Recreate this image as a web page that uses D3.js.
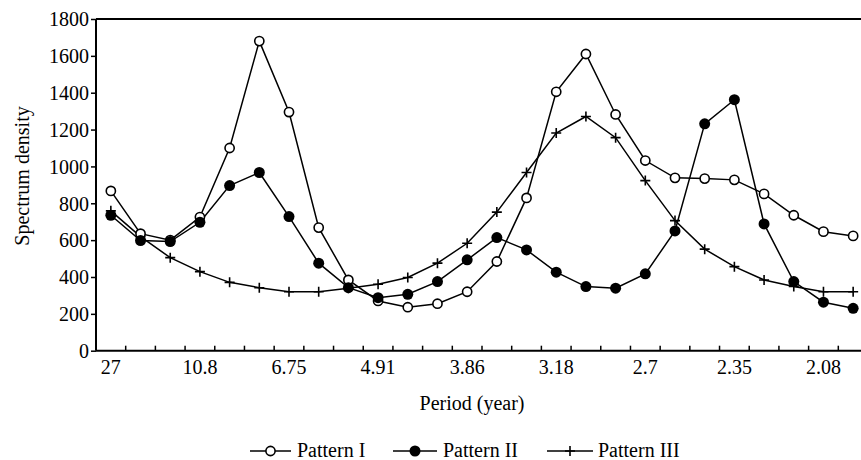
<!DOCTYPE html>
<html>
<head>
<meta charset="utf-8">
<script src="https://cdn.jsdelivr.net/npm/d3@7/dist/d3.min.js"></script>
<style>
  html, body { margin: 0; padding: 0; background: #fff; }
  svg { display: block; }
  text { font-family: "Liberation Serif", "DejaVu Serif", serif; fill: #000; }
</style>
</head>
<body>
<svg id="chart" width="861" height="460"></svg>
<script>
const periods = ["27","18","13.5","10.8","9","7.71","6.75","6","5.4","4.91","4.5","4.15","3.86","3.6","3.38","3.18","3","2.84","2.7","2.57","2.45","2.35","2.25","2.16","2.08","2"];
const tickLabels = ["27","10.8","6.75","4.91","3.86","3.18","2.7","2.35","2.08"];
const yTicks = [0,200,400,600,800,1000,1200,1400,1600,1800];
const seriesNames = ["Pattern I","Pattern II","Pattern III"];
const patternI   = [867, 635, 600, 725, 1100, 1680, 1295, 668, 384, 270, 236, 255, 320, 484, 829, 1405, 1610, 1282, 1032, 938, 934, 927, 851, 735, 646, 623];
const patternII  = [735, 598, 592, 697, 896, 967, 728, 475, 342, 288, 306, 375, 493, 614, 547, 426, 348, 339, 417, 650, 1231, 1362, 688, 375, 263, 230];
const patternIII = [759, 619, 505, 429, 371, 342, 320, 320, 339, 361, 397, 475, 583, 752, 967, 1181, 1271, 1156, 923, 706, 551, 456, 384, 348, 320, 320];

const svg = d3.select("#chart");
const L = 96, T = 19, B = 350.7, R = 868;

const x = d3.scaleBand().domain(periods).range([L, R]).padding(0);
const y = d3.scaleLinear().domain([0, 1800]).range([B, T]);
const cx = d => x(d) + x.bandwidth() / 2;

// top frame line
svg.append("line").attr("x1", L).attr("x2", R).attr("y1", T).attr("y2", T)
  .attr("stroke", "#000").attr("stroke-width", 2);

// y axis
const yAxis = svg.append("g").attr("transform", `translate(${L},0)`)
  .call(d3.axisLeft(y).tickValues(yTicks).tickSize(5).tickPadding(2).tickFormat(d3.format("d")));
yAxis.select(".domain").attr("stroke-width", 2).attr("d", `M0,${T}V${B}`);
yAxis.selectAll(".tick line").attr("stroke-width", 1.5);
yAxis.selectAll("text").style("font-size", "20px").attr("dy", "0.34em");

// x axis
const xAxis = svg.append("g").attr("transform", `translate(0,${B})`)
  .call(d3.axisBottom(x).tickSize(0).tickPadding(9)
    .tickFormat(d => tickLabels.includes(d) ? d : ""));
xAxis.select(".domain").attr("stroke-width", 2).attr("d", `M${L},0H${R}`);
xAxis.selectAll("text").style("font-size", "20px").attr("dy", "0.71em");
// ticks at category boundaries, pointing up into plot
xAxis.selectAll(".bound").data(periods.slice(1)).enter().append("line")
  .attr("class", "bound")
  .attr("x1", d => x(d)).attr("x2", d => x(d))
  .attr("y1", 0).attr("y2", -5)
  .attr("stroke", "#000").attr("stroke-width", 1.5);

// axis titles
svg.append("text").attr("x", 472).attr("y", 410).attr("text-anchor", "middle")
  .style("font-size", "20px").text("Period (year)");
svg.append("text").attr("transform", "translate(29,176) rotate(-90)")
  .attr("text-anchor", "middle").style("font-size", "20px").text("Spectrum density");

const line = d3.line().x((d, i) => cx(periods[i])).y(d => y(d));
const allSeries = [patternI, patternII, patternIII];
allSeries.forEach(s => {
  svg.append("path").datum(s).attr("d", line)
    .attr("fill", "none").attr("stroke", "#000").attr("stroke-width", 1.5);
});

function drawMarker(g, type, px, py) {
  if (type === 0) {
    g.append("circle").attr("cx", px).attr("cy", py).attr("r", 4.6)
      .attr("fill", "#fff").attr("stroke", "#000").attr("stroke-width", 1.6);
  } else if (type === 1) {
    g.append("circle").attr("cx", px).attr("cy", py).attr("r", 5.5).attr("fill", "#000");
  } else {
    g.append("path").attr("d", `M${px-5},${py}H${px+5}M${px},${py-5}V${py+5}`)
      .attr("stroke", "#000").attr("stroke-width", 1.6);
  }
}
const mg = svg.append("g");
[2, 0, 1].forEach(k => {
  allSeries[k].forEach((v, i) => drawMarker(mg, k, cx(periods[i]), y(v)));
});

// legend
const legendItems = [
  {name: seriesNames[0], x1: 250, x2: 291, tx: 297},
  {name: seriesNames[1], x1: 393, x2: 437, tx: 443},
  {name: seriesNames[2], x1: 547, x2: 593, tx: 598}
];
const lg = svg.append("g");
legendItems.forEach((it, k) => {
  lg.append("line").attr("x1", it.x1).attr("x2", it.x2).attr("y1", 451).attr("y2", 451)
    .attr("stroke", "#000").attr("stroke-width", 1.5);
  drawMarker(lg, k, (it.x1 + it.x2) / 2, 451);
  lg.append("text").attr("x", it.tx).attr("y", 457).style("font-size", "20px").text(it.name);
});
</script>
</body>
</html>
